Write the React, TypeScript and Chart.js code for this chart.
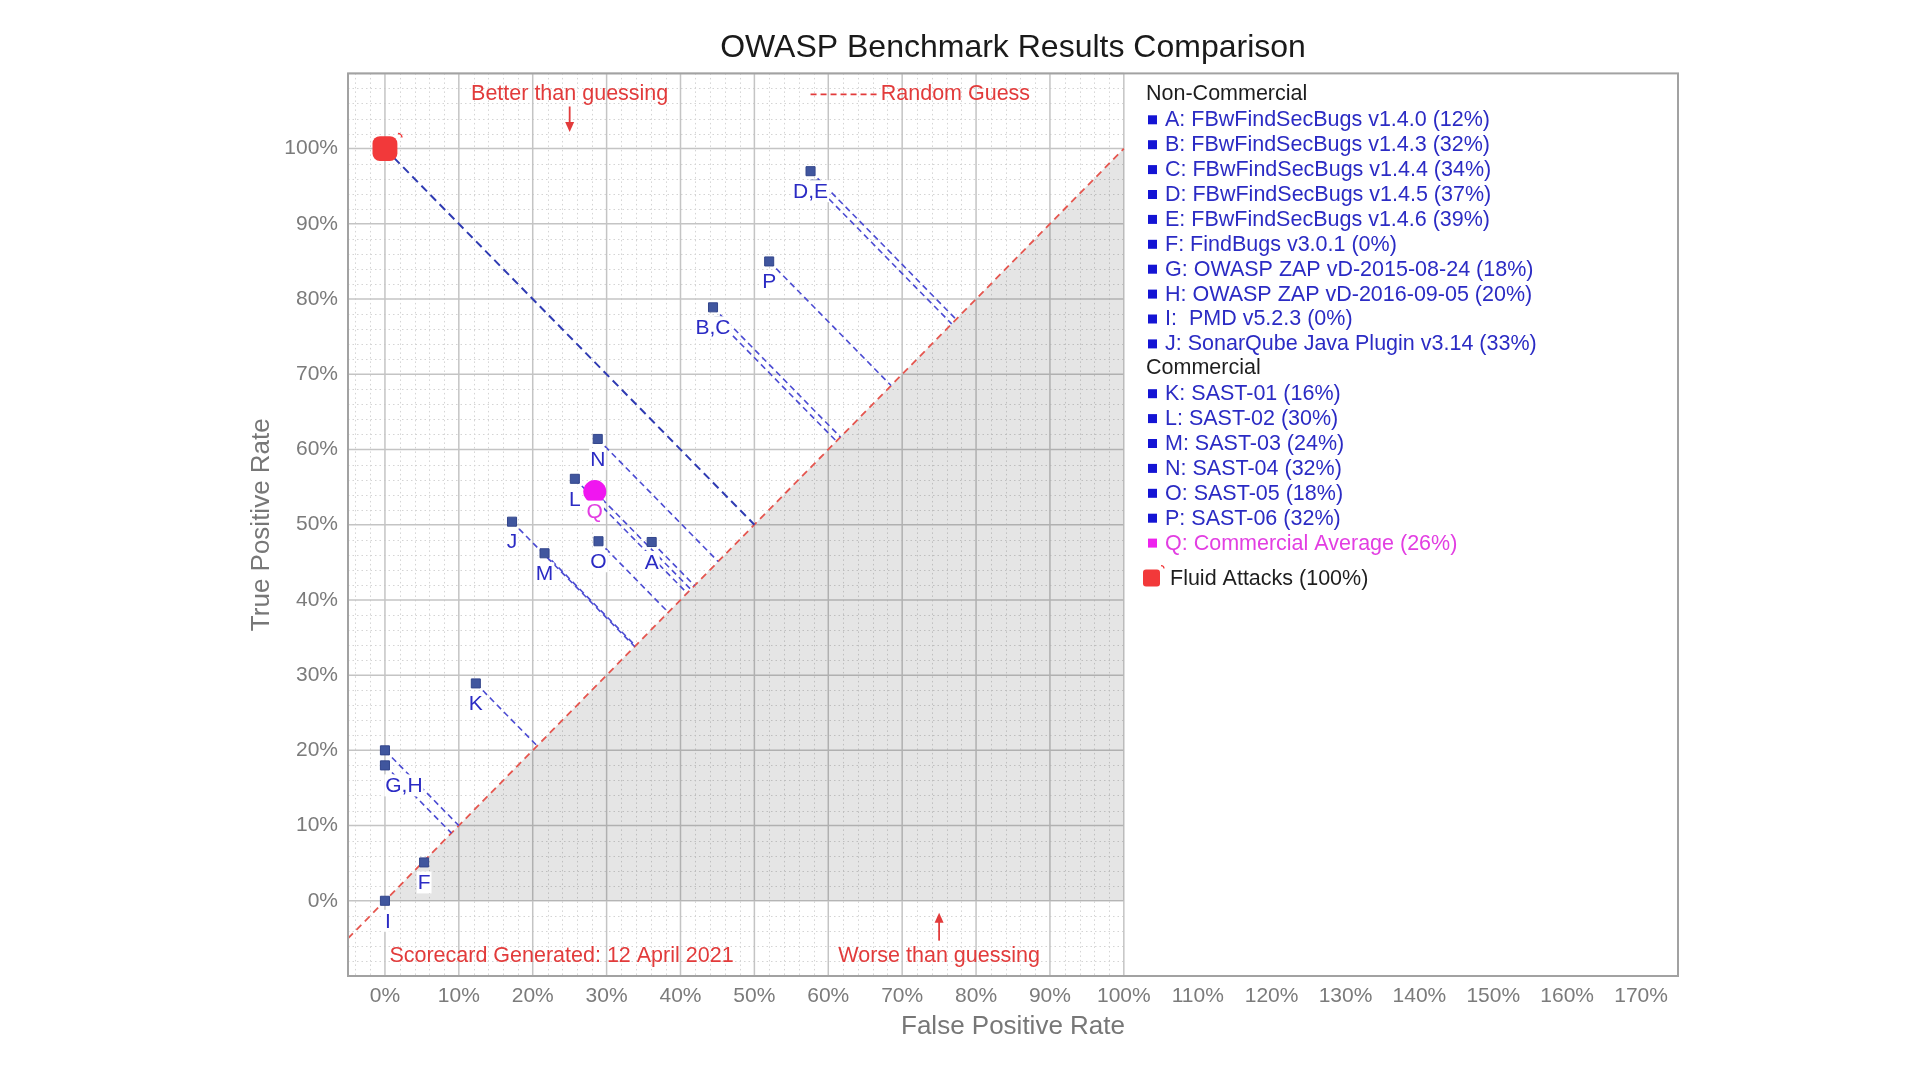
import React, { useEffect, useRef } from "react";
import { Chart, registerables } from "chart.js";

Chart.register(...registerables);

const FONT = '"Liberation Sans", Arial, sans-serif';

// tools plotted on the chart
const toolCodes = ["A", "B", "C", "D", "E", "F", "G", "H", "I", "J", "K", "L", "M", "N", "O", "P"];
const toolNames = [
  "FBwFindSecBugs v1.4.0",
  "FBwFindSecBugs v1.4.3",
  "FBwFindSecBugs v1.4.4",
  "FBwFindSecBugs v1.4.5",
  "FBwFindSecBugs v1.4.6",
  "FindBugs v3.0.1",
  "OWASP ZAP vD-2015-08-24",
  "OWASP ZAP vD-2016-09-05",
  " PMD v5.2.3",
  "SonarQube Java Plugin v3.14",
  "SAST-01",
  "SAST-02",
  "SAST-03",
  "SAST-04",
  "SAST-05",
  "SAST-06",
];
const toolScores = [12, 32, 34, 37, 39, 0, 18, 20, 0, 33, 16, 30, 24, 32, 18, 32];
const falsePositive = [36.1, 45.2, 44.4, 58.2, 57.6, 5.3, 0, 0, 0, 17.2, 12.3, 25.7, 21.6, 28.8, 28.9, 52.0];
const truePositive = [47.7, 77.0, 78.9, 95.2, 97.0, 5.1, 18.0, 20.0, 0, 50.4, 28.9, 56.1, 46.2, 61.4, 47.8, 85.0];
const pointLabels = ["A", "", "B,C", "", "D,E", "F", "G,H", "", "I", "J", "K", "L", "M", "N", "O", "P"];
const nonCommercialCount = 10;

// commercial average
const averageName = "Q: Commercial Average";
const averageScore = 26;
const averageFpr = 28.4;
const averageTpr = 54.4;

// Fluid Attacks
const fluidName = "Fluid Attacks";
const fluidScore = 100;
const fluidFpr = 0;
const fluidTpr = 100;

// reference lines
const guessLine = [-5, 100];
const worseArea = [0, 100];

const xTickValues = [0, 10, 20, 30, 40, 50, 60, 70, 80, 90, 100, 110, 120, 130, 140, 150, 160, 170];
const yTickValues = [0, 10, 20, 30, 40, 50, 60, 70, 80, 90, 100];

const RED = "#e23b3b";
const LABEL_BLUE = "#2b2bc4";
const LINE_BLUE = "#4b4bd2";
const MAGENTA = "#e23ee2";

const labelShiftX: Record<string, number> = { "G,H": 19, I: 3 };

function arrow(ctx: CanvasRenderingContext2D, x: number, y1: number, y2: number) {
  const dir = y2 > y1 ? 1 : -1;
  ctx.beginPath();
  ctx.moveTo(x, y1);
  ctx.lineTo(x, y2 - dir * 8);
  ctx.stroke();
  ctx.beginPath();
  ctx.moveTo(x - 4.5, y2 - dir * 10);
  ctx.lineTo(x + 4.5, y2 - dir * 10);
  ctx.lineTo(x, y2);
  ctx.closePath();
  ctx.fill();
}

const gridPlugin = {
  id: "owaspGrid",
  beforeDatasetsDraw(chart: any) {
    const { ctx, chartArea } = chart;
    const xs = chart.scales.x;
    const ys = chart.scales.y;
    const gridRight = xs.getPixelForValue(100);
    ctx.save();
    // minor dotted lines
    ctx.strokeStyle = "#d4d4d4";
    ctx.lineWidth = 1;
    ctx.setLineDash([1.5, 3]);
    for (let v = -4; v <= 100; v += 2) {
      if (v % 10 === 0) continue;
      const px = Math.round(xs.getPixelForValue(v)) + 0.5;
      ctx.beginPath();
      ctx.moveTo(px, chartArea.top);
      ctx.lineTo(px, chartArea.bottom);
      ctx.stroke();
    }
    for (let v = -8; v <= 108; v += 2) {
      if (v % 10 === 0) continue;
      const py = Math.round(ys.getPixelForValue(v)) + 0.5;
      ctx.beginPath();
      ctx.moveTo(chartArea.left, py);
      ctx.lineTo(gridRight, py);
      ctx.stroke();
    }
    // major lines
    ctx.setLineDash([]);
    ctx.strokeStyle = "#c4c4c4";
    ctx.lineWidth = 1.5;
    for (let v = 0; v <= 100; v += 10) {
      const px = xs.getPixelForValue(v);
      ctx.beginPath();
      ctx.moveTo(px, chartArea.top);
      ctx.lineTo(px, chartArea.bottom);
      ctx.stroke();
    }
    for (let v = -10; v <= 110; v += 10) {
      const py = ys.getPixelForValue(v);
      ctx.beginPath();
      ctx.moveTo(chartArea.left, py);
      ctx.lineTo(gridRight, py);
      ctx.stroke();
    }
    ctx.restore();
  },
};

const labelPlugin = {
  id: "owaspLabels",
  afterDatasetsDraw(chart: any) {
    const { ctx } = chart;
    const xs = chart.scales.x;
    const ys = chart.scales.y;
    ctx.save();
    ctx.font = `21px ${FONT}`;
    ctx.textAlign = "center";
    ctx.textBaseline = "middle";
    const put = (text: string, x: number, y: number, color: string) => {
      const px = xs.getPixelForValue(x) + (labelShiftX[text] ?? 0);
      const py = ys.getPixelForValue(y) + 20;
      const w = ctx.measureText(text).width;
      ctx.fillStyle = "#ffffff";
      ctx.fillRect(px - w / 2 - 1, py - 11, w + 2, 22);
      ctx.fillStyle = color;
      ctx.fillText(text, px, py + 1);
    };
    pointLabels.forEach((text, i) => {
      if (text) put(text, falsePositive[i], truePositive[i], LABEL_BLUE);
    });
    put("Q", averageFpr, averageTpr, MAGENTA);

    // little mark on the Fluid Attacks marker
    const fx = xs.getPixelForValue(fluidFpr);
    const fy = ys.getPixelForValue(fluidTpr);
    ctx.strokeStyle = "#f2393a";
    ctx.lineWidth = 1.5;
    ctx.beginPath();
    ctx.arc(fx + 13, fy - 11, 4, -Math.PI / 2, 0);
    ctx.stroke();
    ctx.restore();
  },
};

const decorPlugin = {
  id: "owaspDecor",
  afterDraw(chart: any) {
    const { ctx, chartArea } = chart;
    const xs = chart.scales.x;
    const ys = chart.scales.y;
    ctx.save();

    // plot frame
    ctx.strokeStyle = "#a2a2a2";
    ctx.lineWidth = 2;
    ctx.strokeRect(chartArea.left, chartArea.top, chartArea.right - chartArea.left, chartArea.bottom - chartArea.top);

    // annotations
    ctx.fillStyle = RED;
    ctx.strokeStyle = RED;
    ctx.lineWidth = 1.8;
    ctx.font = `21.5px ${FONT}`;
    ctx.textBaseline = "middle";
    ctx.textAlign = "center";
    ctx.fillText("Better than guessing", xs.getPixelForValue(25), ys.getPixelForValue(107.3));
    arrow(ctx, xs.getPixelForValue(25), ys.getPixelForValue(105.6), ys.getPixelForValue(102.2));
    ctx.fillText("Worse than guessing", xs.getPixelForValue(75), ys.getPixelForValue(-7.3));
    arrow(ctx, xs.getPixelForValue(75), ys.getPixelForValue(-5.3), ys.getPixelForValue(-1.6));
    ctx.textAlign = "left";
    ctx.fillText("Scorecard Generated: 12 April 2021", xs.getPixelForValue(0.6), ys.getPixelForValue(-7.3));
    ctx.setLineDash([6, 4]);
    ctx.beginPath();
    ctx.moveTo(xs.getPixelForValue(57.6), ys.getPixelForValue(107.2));
    ctx.lineTo(xs.getPixelForValue(67), ys.getPixelForValue(107.2));
    ctx.stroke();
    ctx.setLineDash([]);
    ctx.fillText("Random Guess", xs.getPixelForValue(67.1), ys.getPixelForValue(107.2));

    // legend
    const lx = chartArea.left + 798;
    const ly = chartArea.top + 21;
    const step = 24.9;
    ctx.font = `21.5px ${FONT}`;
    let row = 0;
    const header = (text: string) => {
      ctx.fillStyle = "#1e1e1e";
      ctx.fillText(text, lx, ly + row * step);
      row++;
    };
    const item = (text: string, color: string, bullet: string) => {
      const y = ly + row * step;
      ctx.fillStyle = bullet;
      ctx.fillRect(lx + 2, y - 4, 9, 9);
      ctx.fillStyle = color;
      ctx.fillText(text, lx + 19, y + 1);
      row++;
    };
    header("Non-Commercial");
    toolCodes.forEach((code, i) => {
      if (i === nonCommercialCount) header("Commercial");
      item(`${code}: ${toolNames[i]} (${toolScores[i]}%)`, LABEL_BLUE, "#1414d4");
    });
    item(`${averageName} (${averageScore}%)`, MAGENTA, "#ee22ee");
    const fyy = ly + (row - 1) * step + 35;
    ctx.fillStyle = "#f2393a";
    ctx.beginPath();
    ctx.roundRect(lx - 3, fyy - 8, 17, 17, 3);
    ctx.fill();
    ctx.strokeStyle = "#f2393a";
    ctx.lineWidth = 1.2;
    ctx.beginPath();
    ctx.arc(lx + 15, fyy - 9, 3, -Math.PI / 2, 0);
    ctx.stroke();
    ctx.fillStyle = "#1e1e1e";
    ctx.fillText(`${fluidName} (${fluidScore}%)`, lx + 24, fyy + 1);

    ctx.restore();
  },
};

export default function App() {
  const canvasRef = useRef<HTMLCanvasElement | null>(null);
  const chartRef = useRef<Chart | null>(null);

  useEffect(() => {
    if (!canvasRef.current) return;
    if (chartRef.current) chartRef.current.destroy();

    const projection = (fx: number, ty: number) => {
      const m = (fx + ty) / 2;
      return [
        { x: fx, y: ty },
        { x: m, y: m },
      ];
    };

    const lineBase = { type: "line", pointRadius: 0, fill: false, tension: 0 };

    const datasets: any[] = [
      {
        ...lineBase,
        label: "Worse than guessing",
        data: worseArea.map((v) => ({ x: v, y: v })),
        fill: "origin",
        backgroundColor: "rgba(0,0,0,0.1)",
        borderWidth: 0,
        order: 9,
      },
      {
        ...lineBase,
        label: "Random Guess",
        data: guessLine.map((v) => ({ x: v, y: v })),
        borderColor: "#e5564f",
        borderWidth: 1.8,
        borderDash: [7, 5],
        order: 8,
      },
      ...toolCodes.map((code, i) => ({
        ...lineBase,
        label: `${code} projection`,
        data: projection(falsePositive[i], truePositive[i]),
        borderColor: LINE_BLUE,
        borderWidth: 1.6,
        borderDash: [6, 4],
        order: 7,
      })),
      {
        ...lineBase,
        label: "Q projection",
        data: projection(averageFpr, averageTpr),
        borderColor: LINE_BLUE,
        borderWidth: 1.6,
        borderDash: [6, 4],
        order: 7,
      },
      {
        ...lineBase,
        label: "Fluid projection",
        data: projection(fluidFpr, fluidTpr),
        borderColor: "#2f3bb2",
        borderWidth: 2,
        borderDash: [8, 5],
        order: 7,
      },
      {
        label: "Tools",
        data: toolCodes.map((_, i) => ({ x: falsePositive[i], y: truePositive[i] })),
        showLine: false,
        pointStyle: "rect",
        pointRadius: 6.4,
        backgroundColor: "#40569e",
        borderColor: "#33468c",
        borderWidth: 1,
        order: 3,
      },
      {
        label: averageName,
        data: [{ x: averageFpr, y: averageTpr }],
        showLine: false,
        pointStyle: "circle",
        pointRadius: 11.5,
        backgroundColor: "#f016f0",
        borderWidth: 0,
        order: 2,
      },
      {
        label: fluidName,
        data: [{ x: fluidFpr, y: fluidTpr }],
        showLine: false,
        pointStyle: "rectRounded",
        pointRadius: 14.5,
        backgroundColor: "#f2393a",
        borderWidth: 0,
        order: 1,
      },
    ];

    chartRef.current = new Chart(canvasRef.current, {
      type: "line",
      data: { datasets },
      options: {
        animation: false,
        responsive: true,
        maintainAspectRatio: false,
        events: [],
        layout: { padding: { left: 0, right: 242, top: 0, bottom: 0 } },
        plugins: {
          legend: { display: false },
          tooltip: { enabled: false },
          title: {
            display: true,
            text: "OWASP Benchmark Results Comparison",
            color: "#1a1a1a",
            font: { family: FONT, size: 32, weight: "normal" },
            padding: { top: 29, bottom: 6 },
            fullSize: false,
          },
        },
        scales: {
          x: {
            type: "linear",
            min: -5,
            max: 175,
            afterBuildTicks: (s: any) => {
              s.ticks = xTickValues.map((v) => ({ value: v }));
            },
            afterFit: (s: any) => {
              s.height = 104;
            },
            grid: { display: false },
            border: { display: false },
            ticks: {
              autoSkip: false,
              maxRotation: 0,
              padding: 0,
              color: "#7b7b7b",
              font: { family: FONT, size: 21 },
              callback: (v: any) => `${v}%`,
            },
            title: {
              display: true,
              text: "False Positive Rate",
              color: "#777777",
              font: { family: FONT, size: 26 },
              padding: { top: 0, bottom: 38 },
            },
          },
          y: {
            type: "linear",
            min: -10,
            max: 110,
            afterBuildTicks: (s: any) => {
              s.ticks = yTickValues.map((v) => ({ value: v }));
            },
            afterFit: (s: any) => {
              s.width = 348;
            },
            grid: { display: false },
            border: { display: false },
            ticks: {
              padding: 2,
              color: "#7b7b7b",
              font: { family: FONT, size: 21 },
              callback: (v: any) => `${v}%`,
            },
            title: {
              display: true,
              text: "True Positive Rate",
              color: "#777777",
              font: { family: FONT, size: 26 },
              padding: { top: 246, bottom: 0 },
            },
          },
        },
      } as any,
      plugins: [gridPlugin, labelPlugin, decorPlugin],
    });

    return () => {
      if (chartRef.current) {
        chartRef.current.destroy();
        chartRef.current = null;
      }
    };
  }, []);

  return (
    <div style={{ position: "absolute", left: 0, top: 0, width: 1920, height: 1080, background: "#ffffff" }}>
      <canvas ref={canvasRef} />
    </div>
  );
}
